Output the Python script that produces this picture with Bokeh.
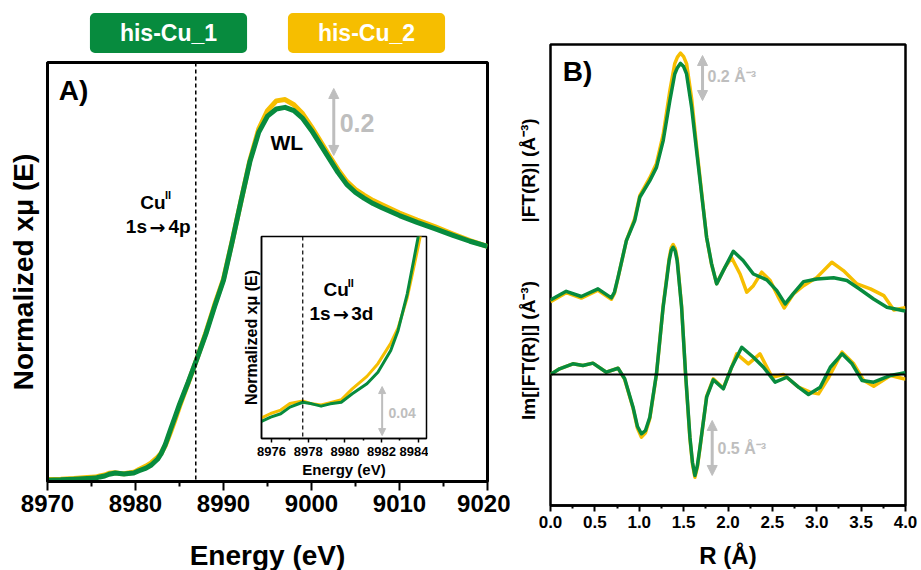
import math
from bokeh.plotting import figure
from bokeh.models import (Range1d, Span, Label, Arrow, NormalHead, FixedTicker,
                          NumeralTickFormatter, GlobalInlineStyleSheet)
from bokeh.layouts import row
from bokeh.embed import file_html
from bokeh.resources import INLINE

FONT = "Liberation Sans"
ARROW_FONT = "DejaVu Sans"
GREEN = "#078B3E"
YELLOW = "#F6BE00"
GRAY = "#BEBEBE"

series_names = ["his-Cu_1", "his-Cu_2"]

# ---- XANES (panel A) ----
energy_ev = [8970.0, 8971.5, 8973.0, 8974.5, 8975.45, 8975.95, 8976.5, 8977.0, 8977.7, 8978.2,
             8978.7, 8979.2, 8979.8, 8980.4, 8981.2, 8981.8, 8982.5, 8982.9, 8983.4, 8983.75,
             8984.0, 8984.5, 8985.0, 8985.5, 8986.0, 8987.0, 8988.0, 8989.0, 8990.0, 8991.0,
             8992.0, 8993.0, 8994.0, 8995.0, 8996.0, 8997.0, 8998.0, 8999.0, 9000.0, 9001.0,
             9002.0, 9003.0, 9004.0, 9005.0, 9006.0, 9007.0, 9008.0, 9010.0, 9012.0, 9014.0,
             9016.0, 9018.0, 9020.0]
xanes_cu1 = [-0.005, -0.004, -0.002, 0.000, 0.0013, 0.0048, 0.0076, 0.0130, 0.0170, 0.0157,
             0.0138, 0.0157, 0.0170, 0.0239, 0.0321, 0.0415, 0.0592, 0.0756, 0.1055, 0.1327,
             0.1523, 0.190, 0.228, 0.263, 0.297, 0.370, 0.445, 0.530, 0.610, 0.730,
             0.855, 0.975, 1.065, 1.115, 1.137, 1.142, 1.132, 1.108, 1.071, 1.028,
             0.985, 0.942, 0.905, 0.880, 0.862, 0.846, 0.833, 0.809, 0.788, 0.769,
             0.749, 0.730, 0.714]
xanes_cu2 = [-0.003, -0.002, 0.000, 0.003, 0.0043, 0.0078, 0.0106, 0.0160, 0.0180, 0.0157,
             0.0148, 0.0167, 0.0190, 0.0279, 0.0381, 0.0485, 0.0652, 0.0776, 0.1025, 0.1267,
             0.1443, 0.182, 0.222, 0.259, 0.295, 0.370, 0.449, 0.535, 0.614, 0.732,
             0.855, 0.979, 1.075, 1.132, 1.162, 1.166, 1.150, 1.122, 1.082, 1.038,
             0.994, 0.951, 0.914, 0.889, 0.871, 0.855, 0.842, 0.817, 0.795, 0.775,
             0.753, 0.732, 0.714]

edge_4p_ev = 8986.85
pre_3d_ev = 8977.7

# ---- EXAFS |FT| (panel B, upper) ----
r_mag_cu1 = [0.000, 0.177, 0.347, 0.535, 0.686, 0.720, 0.761, 0.855, 0.949, 1.006, 1.119, 1.194,
             1.270, 1.345, 1.400, 1.430, 1.465, 1.500, 1.533, 1.590, 1.646, 1.720, 1.759, 1.815,
             1.872, 1.947, 2.060, 2.170, 2.286, 2.437, 2.550, 2.644, 2.738, 2.851, 3.002, 3.190,
             3.340, 3.490, 3.640, 3.790, 3.980, 4.000]
ft_mag_cu1 = [0.101, 0.139, 0.116, 0.150, 0.110, 0.135, 0.201, 0.364, 0.453, 0.557, 0.631, 0.690,
              0.809, 0.987, 1.105, 1.133, 1.152, 1.138, 1.105, 0.957, 0.764, 0.512, 0.379, 0.261,
              0.172, 0.231, 0.317, 0.276, 0.216, 0.190, 0.142, 0.083, 0.130, 0.182, 0.194, 0.199,
              0.187, 0.147, 0.105, 0.068, 0.053, 0.053]
r_mag_cu2 = [0.000, 0.177, 0.347, 0.535, 0.686, 0.720, 0.761, 0.855, 0.949, 1.006, 1.119, 1.194,
             1.270, 1.345, 1.400, 1.430, 1.465, 1.500, 1.533, 1.590, 1.646, 1.720, 1.759, 1.815,
             1.872, 1.966, 2.041, 2.136, 2.211, 2.286, 2.380, 2.475, 2.569, 2.633, 2.738, 2.851,
             3.002, 3.170, 3.300, 3.454, 3.605, 3.755, 3.868, 3.980, 4.000]
ft_mag_cu2 = [0.093, 0.133, 0.109, 0.144, 0.104, 0.130, 0.200, 0.364, 0.462, 0.564, 0.644, 0.707,
              0.836, 1.031, 1.151, 1.180, 1.198, 1.182, 1.151, 0.996, 0.782, 0.516, 0.378, 0.258,
              0.173, 0.246, 0.288, 0.216, 0.135, 0.164, 0.224, 0.187, 0.112, 0.065, 0.128, 0.164,
              0.201, 0.268, 0.231, 0.172, 0.150, 0.120, 0.056, 0.065, 0.067]

# ---- EXAFS Im[FT] (panel B, lower) ----
r_im_cu1 = [0.000, 0.102, 0.252, 0.365, 0.478, 0.629, 0.761, 0.836, 0.930, 0.980, 1.025, 1.070,
            1.119, 1.194, 1.269, 1.337, 1.360, 1.382, 1.405, 1.427, 1.477, 1.522, 1.571, 1.600,
            1.627, 1.655, 1.684, 1.759, 1.834, 1.947, 2.041, 2.155, 2.286, 2.400, 2.531, 2.663,
            2.794, 2.907, 3.040, 3.153, 3.285, 3.398, 3.511, 3.642, 3.831, 3.980, 4.000]
ft_im_cu1 = [0.000, 0.052, 0.097, 0.082, 0.103, 0.021, 0.057, -0.039, -0.297, -0.473, -0.539, -0.509,
             -0.388, 0.006, 0.612, 1.036, 1.127, 1.157, 1.123, 1.036, 0.612, 0.006, -0.570, -0.800,
             -0.918, -0.827, -0.661, -0.206, -0.048, -0.130, 0.066, 0.248, 0.157, 0.066, -0.070, -0.025,
             -0.115, -0.182, -0.115, 0.066, 0.188, 0.097, -0.055, -0.070, -0.009, 0.015, 0.018]
r_im_cu2 = [0.000, 0.102, 0.252, 0.365, 0.478, 0.629, 0.761, 0.836, 0.930, 0.980, 1.025, 1.070,
            1.119, 1.194, 1.269, 1.337, 1.360, 1.382, 1.405, 1.427, 1.477, 1.522, 1.571, 1.600,
            1.627, 1.655, 1.684, 1.759, 1.834, 1.947, 2.041, 2.098, 2.230, 2.360, 2.497, 2.625,
            2.794, 2.926, 3.020, 3.136, 3.285, 3.417, 3.530, 3.642, 3.831, 3.980, 4.000]
ft_im_cu2 = [0.000, 0.052, 0.097, 0.082, 0.103, 0.021, 0.057, -0.045, -0.305, -0.490, -0.570, -0.530,
             -0.400, 0.000, 0.620, 1.055, 1.152, 1.182, 1.148, 1.055, 0.620, 0.000, -0.585, -0.815,
             -0.934, -0.842, -0.670, -0.200, -0.040, -0.125, 0.066, 0.188, 0.097, 0.188, -0.025, 0.000,
             -0.115, -0.161, -0.176, -0.025, 0.203, 0.097, -0.055, -0.106, -0.009, -0.039, -0.040]

energy_ticks = [8970, 8980, 8990, 9000, 9010, 9020]
energy_minor = [8975, 8985, 8995, 9005, 9015]
inset_ticks = [8976, 8978, 8980, 8982, 8984]
inset_minor = [8977, 8979, 8981, 8983]
r_ticks = [0.0, 0.5, 1.0, 1.5, 2.0, 2.5, 3.0, 3.5, 4.0]
r_minor = [0.25, 0.75, 1.25, 1.75, 2.25, 2.75, 3.25, 3.75]


def style_common(p, outline_w):
    p.outline_line_color = "black"
    p.outline_line_width = outline_w
    p.xgrid.visible = False
    p.ygrid.visible = False
    p.background_fill_color = "white"


def lbl(p, x, y, text, size, color="black", align="center", angle=0.0,
        y_range_name="default", font=FONT):
    p.add_layout(Label(x=x, y=y, text=text, text_font=font, text_font_style="bold",
                       text_font_size=size, text_color=color, text_align=align,
                       text_baseline="middle", angle=angle, y_range_name=y_range_name))


def head(size=10):
    return NormalHead(size=size, fill_color=GRAY, line_color=GRAY, line_width=1)


def blank_overlay(w, h, left, top):
    q = figure(frame_width=w, frame_height=h, min_border=0, min_border_left=0,
               min_border_right=0, min_border_top=0, min_border_bottom=0,
               x_range=Range1d(0, w), y_range=Range1d(0, h),
               x_axis_location=None, y_axis_location=None,
               output_backend="svg", toolbar_location=None, frame_align=False)
    q.outline_line_color = None
    q.background_fill_alpha = 0
    q.border_fill_alpha = 0
    q.grid.visible = False
    q.styles = {"position": "absolute", "left": f"{left}px", "top": f"{top}px"}
    return q


# ================= Panel A =================
pA = figure(frame_width=440, frame_height=419, min_border_left=47, min_border_right=23,
            min_border_top=62, min_border_bottom=88,
            x_range=Range1d(8970, 9020), y_range=Range1d(-0.0092, 1.28),
            output_backend="svg", toolbar_location=None, frame_align=False)
style_common(pA, 3)
pA.border_fill_color = "white"

xa = pA.xaxis[0]
xa.ticker = FixedTicker(ticks=energy_ticks, minor_ticks=energy_minor)
xa.axis_line_width = 3
xa.major_tick_line_width = 2
xa.minor_tick_line_width = 2
xa.major_tick_out = 9
xa.major_tick_in = 0
xa.minor_tick_out = 5
xa.minor_tick_in = 0
xa.major_label_text_font = FONT
xa.major_label_text_font_style = "bold"
xa.major_label_text_font_size = "24px"
xa.major_label_text_color = "black"
xa.major_label_standoff = 4
xa.axis_label = "Energy (eV)"
xa.axis_label_text_font = FONT
xa.axis_label_text_font_style = "bold"
xa.axis_label_text_font_size = "28px"
xa.axis_label_text_color = "black"
xa.axis_label_standoff = 25

ya = pA.yaxis[0]
ya.ticker = FixedTicker(ticks=[])
ya.axis_line_width = 3
ya.major_tick_out = 0
ya.major_tick_in = 0
ya.minor_tick_out = 0
ya.minor_tick_in = 0
ya.major_label_standoff = 0
ya.axis_label = "Normalized x\u03bc (E)"
ya.axis_label_text_font = FONT
ya.axis_label_text_font_style = "bold"
ya.axis_label_text_font_size = "28px"
ya.axis_label_text_color = "black"
ya.axis_label_standoff = 9

pA.add_layout(Span(location=edge_4p_ev, dimension="height", line_color="black",
                   line_width=1.5, line_dash="4 3"))
pA.line(energy_ev, xanes_cu2, line_color=YELLOW, line_width=5, line_join="round")
pA.line(energy_ev, xanes_cu1, line_color=GREEN, line_width=5, line_join="round")

lbl(pA, 8972.95, 1.194, "A)", "28px")
lbl(pA, 8997.2, 1.034, "WL", "21px")
lbl(pA, 8980.55, 0.849, "Cu", "19px", align="left")
lbl(pA, 8983.35, 0.871, "II", "11px", align="left")
lbl(pA, 8980.1, 0.775, "1s", "19px")
lbl(pA, 8982.5, 0.775, "\u2192", "19px", font=ARROW_FONT)
lbl(pA, 8985.0, 0.775, "4p", "19px")
lbl(pA, 9003.2, 1.095, "0.2", "25px", color=GRAY, align="left")
pA.add_layout(Arrow(start=head(), end=head(), x_start=9002.53, y_start=0.994,
                    x_end=9002.53, y_end=1.2, line_color=GRAY, line_width=3))

# ================= Inset =================
pI = figure(frame_width=165, frame_height=202, min_border_left=24, min_border_right=2,
            min_border_top=2, min_border_bottom=42,
            x_range=Range1d(8975.45, 8984.45), y_range=Range1d(-0.0126, 0.1523),
            output_backend="svg", toolbar_location=None, frame_align=False)
style_common(pI, 1.5)
pI.border_fill_alpha = 0
pI.styles = {"position": "absolute", "left": "237px", "top": "234px"}

xi = pI.xaxis[0]
xi.ticker = FixedTicker(ticks=inset_ticks, minor_ticks=inset_minor)
xi.axis_line_width = 1.5
xi.major_tick_line_width = 1.5
xi.minor_tick_line_width = 1.5
xi.major_tick_out = 4
xi.major_tick_in = 0
xi.minor_tick_out = 2
xi.minor_tick_in = 0
xi.major_label_text_font = FONT
xi.major_label_text_font_style = "bold"
xi.major_label_text_font_size = "13px"
xi.major_label_text_color = "black"
xi.major_label_standoff = 4
xi.axis_label = "Energy (eV)"
xi.axis_label_text_font = FONT
xi.axis_label_text_font_style = "bold"
xi.axis_label_text_font_size = "15px"
xi.axis_label_text_color = "black"
xi.axis_label_standoff = 2

yi = pI.yaxis[0]
yi.ticker = FixedTicker(ticks=[])
yi.axis_line_width = 1.5
yi.major_tick_out = 0
yi.major_tick_in = 0
yi.minor_tick_out = 0
yi.minor_tick_in = 0
yi.major_label_standoff = 0
yi.axis_label = "Normalized x\u03bc (E)"
yi.axis_label_text_font = FONT
yi.axis_label_text_font_style = "bold"
yi.axis_label_text_font_size = "16px"
yi.axis_label_text_color = "black"
yi.axis_label_standoff = 2

pI.add_layout(Span(location=pre_3d_ev, dimension="height", line_color="black",
                   line_width=1.2, line_dash="4 3"))
pI.line(energy_ev, xanes_cu2, line_color=YELLOW, line_width=3, line_join="round")
pI.line(energy_ev, xanes_cu1, line_color=GREEN, line_width=3, line_join="round")

lbl(pI, 8978.83, 0.109, "Cu", "19px", align="left")
lbl(pI, 8980.15, 0.1147, "II", "11px", align="left")
lbl(pI, 8978.64, 0.0894, "1s", "19px")
lbl(pI, 8979.78, 0.0894, "\u2192", "19px", font=ARROW_FONT)
lbl(pI, 8980.95, 0.0894, "3d", "19px")
lbl(pI, 8982.38, 0.0086, "0.04", "14px", color=GRAY, align="left")
pI.add_layout(Arrow(start=head(7), end=head(7),
                    x_start=8982.03, y_start=-0.0102, x_end=8982.03, y_end=0.0298,
                    line_color=GRAY, line_width=2))

# ================= Panel B =================
pB = figure(frame_width=355, frame_height=461, min_border_left=40, min_border_right=16,
            min_border_top=44, min_border_bottom=65,
            x_range=Range1d(0, 4), y_range=Range1d(-0.813, 1.236),
            output_backend="svg", toolbar_location=None, frame_align=False)
pB.extra_y_ranges = {"im": Range1d(-1.191, 3.0)}
style_common(pB, 2.5)
pB.border_fill_color = "white"
pB.yaxis.visible = False

xb = pB.xaxis[0]
xb.ticker = FixedTicker(ticks=r_ticks, minor_ticks=r_minor)
xb.formatter = NumeralTickFormatter(format="0.0")
xb.axis_line_width = 2.5
xb.major_tick_line_width = 2
xb.minor_tick_line_width = 2
xb.major_tick_out = 6
xb.major_tick_in = 0
xb.minor_tick_out = 3
xb.minor_tick_in = 0
xb.major_label_text_font = FONT
xb.major_label_text_font_style = "bold"
xb.major_label_text_font_size = "17px"
xb.major_label_text_color = "black"
xb.major_label_standoff = 4
xb.axis_label = "R (\u00c5)"
xb.axis_label_text_font = FONT
xb.axis_label_text_font_style = "bold"
xb.axis_label_text_font_size = "24px"
xb.axis_label_text_color = "black"
xb.axis_label_standoff = 11

pB.add_layout(Span(location=0, dimension="width", line_color="black", line_width=2,
                   y_range_name="im"))
pB.line(r_mag_cu2, ft_mag_cu2, line_color=YELLOW, line_width=3.5, line_join="round")
pB.line(r_mag_cu1, ft_mag_cu1, line_color=GREEN, line_width=3.5, line_join="round")
pB.line(r_im_cu2, ft_im_cu2, line_color=YELLOW, line_width=3.5, line_join="round", y_range_name="im")
pB.line(r_im_cu1, ft_im_cu1, line_color=GREEN, line_width=3.5, line_join="round", y_range_name="im")

lbl(pB, 0.304, 1.116, "B)", "28px")
lbl(pB, 1.769, 1.093, "0.2 \u00c5\u207b\u00b3", "16px", color=GRAY, align="left")
lbl(pB, 1.882, -0.673, "0.5 \u00c5\u207b\u00b3", "16px", color=GRAY, align="left", y_range_name="im")
pB.add_layout(Arrow(start=head(), end=head(), x_start=1.713, y_start=0.987,
                    x_end=1.713, y_end=1.187, line_color=GRAY, line_width=3))
pB.add_layout(Arrow(start=head(), end=head(), x_start=1.822, y_start=-0.918,
                    x_end=1.822, y_end=-0.418, line_color=GRAY, line_width=3,
                    y_range_name="im"))

# ---- legend boxes above panel A (overlay, page x 60..480, y 2..60) ----
pL = blank_overlay(420, 58, 60, 2)
legend_colors = [GREEN, YELLOW]
legend_x = [108, 306]
for name, col, lx in zip(series_names, legend_colors, legend_x):
    pL.add_layout(Label(x=lx, y=27.5, text=name, text_font=FONT, text_font_style="bold",
                        text_font_size="23px", text_color="white", text_align="center",
                        text_baseline="middle", background_fill_color=col,
                        padding=dict(left=30, right=30, top=7, bottom=7), border_radius=5))

# ---- y labels of panel B (overlay, page x 511..545, y 100..440) ----
pY = blank_overlay(34, 340, 511, 100)
lbl(pY, 17, 270, "|FT(R)| (\u00c5\u207b\u00b3)", "19px", angle=math.pi / 2)
lbl(pY, 17, 90, "Im[|FT(R)|] (\u00c5\u207b\u00b3)", "19px", angle=math.pi / 2)

layout = row(pA, pB, pI, pL, pY)
layout.stylesheets = [GlobalInlineStyleSheet(css="html, body { margin: 0; overflow: hidden; }")]
open("out.html", "w").write(file_html(layout, INLINE))
